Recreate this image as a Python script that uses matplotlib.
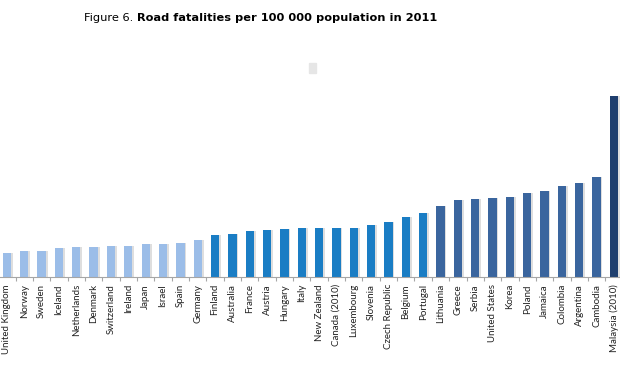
import matplotlib
matplotlib.use('Agg')
import matplotlib.pyplot as plt
from matplotlib.patches import Patch

countries = ['United Kingdom', 'Norway', 'Sweden', 'Iceland', 'Netherlands', 'Denmark',
             'Switzerland', 'Ireland', 'Japan', 'Israel', 'Spain', 'Germany',
             'Finland', 'Australia', 'France', 'Austria', 'Hungary', 'Italy',
             'New Zealand', 'Canada (2010)', 'Luxembourg', 'Slovenia', 'Czech Republic',
             'Belgium', 'Portugal',
             'Lithuania', 'Greece', 'Serbia', 'United States', 'Korea', 'Poland',
             'Jamaica', 'Colombia', 'Argentina', 'Cambodia', 'Malaysia (2010)']
fatalities = [3.1, 3.4, 3.4, 3.8, 4.0, 4.0, 4.1, 4.1, 4.3, 4.4, 4.5, 4.9,
              5.5, 5.6, 6.0, 6.2, 6.3, 6.4, 6.4, 6.5, 6.5, 6.8, 7.2, 7.9, 8.4,
              9.3, 10.1, 10.2, 10.4, 10.5, 11.0, 11.3, 12.0, 12.3, 13.1, 23.8]
group = [0] * 12 + [1] * 13 + [2] * 10 + [3]
group_colors = ['#9bbde8', '#1a7dc4', '#3a659e', '#1f3f6e']

fig = plt.figure(figsize=(6.2, 3.72), dpi=100)
ax = fig.add_axes([0, 0.255, 1, 0.53])

x = list(range(len(countries)))
colors = [group_colors[g] for g in group]
# faint shadow to the right of each bar
ax.bar([i + 0.1 for i in x], fatalities, width=0.48, color='#dedede', zorder=1)
ax.bar(x, fatalities, width=0.48, color=colors, zorder=2)

ax.set_xlim(-0.4, len(countries) - 0.65)
ax.set_ylim(0, 25.85)
ax.set_yticks([])
for s in ['top', 'right', 'left']:
    ax.spines[s].set_visible(False)
ax.spines['bottom'].set_color('#a6a6a6')
ax.spines['bottom'].set_linewidth(0.8)

ax.set_xticks(x)
ax.set_xticklabels(countries, rotation=90, fontsize=7, family='Lato', color='#222222')
ax.tick_params(axis='x', which='major', length=0, pad=5)
ax.set_xticks([i + 0.5 for i in x[:-1]], minor=True)
ax.tick_params(axis='x', which='minor', length=3, color='#a6a6a6', width=0.8)

ax.legend(handles=[Patch(color='#e6e6e6', label='')], loc='upper center',
          bbox_to_anchor=(0.513, 1.155), frameon=False, handlelength=0.45,
          handleheight=0.8)

t1 = fig.text(0.135, 0.952, 'Figure 6. ', fontsize=8.2, va='center', ha='left')
fig.canvas.draw()
bb = t1.get_window_extent()
fig.text(bb.x1 / fig.bbox.width, 0.952, 'Road fatalities per 100 000 population in 2011',
         fontsize=8.2, fontweight='bold', va='center', ha='left')

fig.savefig('out.png', dpi=100)
